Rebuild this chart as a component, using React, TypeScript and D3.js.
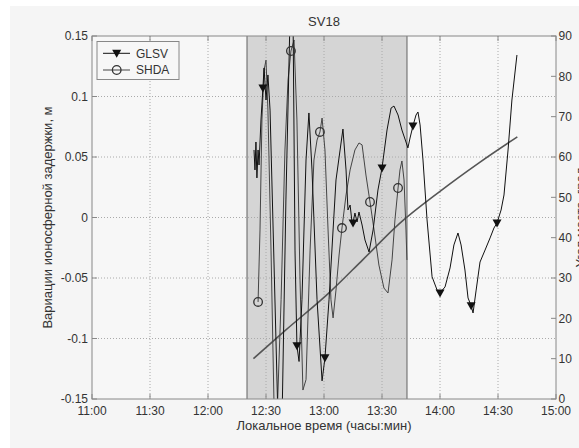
import React from "react";
import * as d3 from "d3";

// time in minutes after 11:00, values in metres
const glsvTime = [83.8, 84.3, 84.8, 85.3, 85.9, 86.4, 87.4, 88.4, 89.0, 90.0, 91.0, 92.1, 94.1, 96.2, 98.3, 100.3, 102.4, 104.0, 105.0, 106.0, 107.1, 108.6, 110.7, 112.2, 113.8, 116.4, 119.0, 120.5, 122.6, 126.2, 129.8, 131.4, 132.4, 133.5, 134.5, 135.0, 136.0, 137.1, 138.1, 139.7, 141.2, 143.3, 145.4, 147.9, 150.0, 152.6, 154.7, 156.2, 158.3, 160.3, 162.4, 163.4, 164.5, 166.0, 167.6, 168.6, 169.7, 171.2, 173.3, 175.9, 178.5, 180.0, 182.6, 185.2, 187.2, 189.3, 190.9, 192.9, 194.5, 196.1, 197.1, 198.7, 200.7, 203.3, 205.9, 207.9, 209.5, 211.6, 213.1, 215.2, 217.2, 219.8];
const glsvValue = [0.0558, 0.0393, 0.0624, 0.0327, 0.0558, 0.0434, 0.0806, 0.107, 0.1236, 0.0971, 0.1178, 0.0888, -0.0351, -0.167, -0.167, 0.0145, 0.163, 0.163, -0.0269, -0.106, -0.119, -0.068, 0.0475, 0.0864, 0.0393, -0.068, -0.135, -0.116, -0.068, 0.031, 0.0731, 0.0393, 0.0062, 0.0103, -0.004, -0.0045, 0.0037, -0.0037, 0.0045, -0.0062, -0.0186, -0.0285, -0.0103, 0.0227, 0.0409, 0.0723, 0.0905, 0.0921, 0.0847, 0.0723, 0.0624, 0.0575, 0.0657, 0.0756, 0.0847, 0.0872, 0.0765, 0.0475, -0.002, -0.049, -0.06, -0.0623, -0.0574, -0.0417, -0.0227, -0.0128, -0.0227, -0.0434, -0.0665, -0.073, -0.0789, -0.06, -0.0368, -0.0269, -0.0169, -0.0087, -0.0045, 0.0062, 0.0186, 0.0558, 0.0971, 0.1343];
const glsvMarkerTime = [88.4, 106.0, 120.5, 135.0, 150.0, 166.0, 180.0, 196.1, 209.5];

const shdaTime = [85.9, 86.9, 87.9, 89.0, 90.0, 91.0, 92.6, 94.1, 95.7, 97.8, 99.8, 101.4, 102.9, 104.5, 106.0, 107.6, 109.1, 110.7, 112.8, 114.8, 116.4, 117.9, 119.0, 120.5, 122.1, 123.6, 124.7, 126.2, 127.8, 129.3, 131.4, 133.5, 136.0, 138.1, 139.7, 141.7, 143.8, 145.9, 148.4, 151.0, 153.1, 155.2, 156.7, 158.3, 159.3, 160.3, 161.4, 162.4, 162.9];
const shdaValue = [-0.0698, -0.0103, 0.0806, 0.1219, 0.13, 0.0888, -0.0269, -0.1508, -0.167, -0.068, 0.0558, 0.1136, 0.1376, 0.1467, 0.0806, -0.0517, -0.1426, -0.134, -0.0269, 0.0475, 0.064, 0.0707, 0.0822, 0.0558, -0.0103, -0.068, -0.083, -0.06, -0.031, -0.0087, 0.0186, 0.0393, 0.0558, 0.0616, 0.06, 0.0351, 0.0128, -0.0103, -0.0393, -0.0583, -0.0624, -0.035, -0.002, 0.0244, 0.0393, 0.0467, 0.031, -0.0103, -0.0351];
const shdaMarkerTime = [85.9, 102.9, 117.9, 129.3, 143.8, 158.3];

const elevTime = [83.5, 100, 123, 140, 159, 180, 200, 220];
const elevValue = [10, 17, 26.5, 34.5, 43.5, 51.5, 58.5, 65];

const shadeStart = 80.2;
const shadeEnd = 162.9;

const xTicks = [0, 30, 60, 90, 120, 150, 180, 210, 240];
const xTickLabels = ["11:00", "11:30", "12:00", "12:30", "13:00", "13:30", "14:00", "14:30", "15:00"];
const yTicks = [-0.15, -0.1, -0.05, 0, 0.05, 0.1, 0.15];
const yTickLabels = ["-0.15", "-0.1", "-0.05", "0", "0.05", "0.1", "0.15"];
const y2Ticks = [0, 10, 20, 30, 40, 50, 60, 70, 80, 90];

const title = "SV18";
const xLabel = "Локальное время (часы:мин)";
const yLabel = "Вариации ионосферной задержки, м";
const y2Label = "Угол места, град";
const seriesNames = ["GLSV", "SHDA"];

const W = 579, H = 448;
const X0 = 92, X1 = 556, Y0 = 36, Y1 = 399;
const FONT = "'Liberation Sans', Arial, sans-serif";
const TXT = "#333";

export default function App() {
  const x = d3.scaleLinear().domain([0, 240]).range([X0, X1]);
  const y = d3.scaleLinear().domain([-0.15, 0.15]).range([Y1, Y0]);
  const y2 = d3.scaleLinear().domain([0, 90]).range([Y1, Y0]);

  const glsv = glsvTime.map((t, i) => [t, glsvValue[i]] as [number, number]);
  const shda = shdaTime.map((t, i) => [t, shdaValue[i]] as [number, number]);
  const elev = elevTime.map((t, i) => [t, elevValue[i]] as [number, number]);

  const line = d3.line<[number, number]>().x(d => x(d[0])).y(d => y(d[1]));
  const line2 = d3.line<[number, number]>().x(d => x(d[0])).y(d => y2(d[1])).curve(d3.curveMonotoneX);

  const glsvMarks = glsvMarkerTime.map(t => glsv.find(d => Math.abs(d[0] - t) < 0.01)!).filter(Boolean);
  const shdaMarks = shdaMarkerTime.map(t => shda.find(d => Math.abs(d[0] - t) < 0.01)!).filter(Boolean);

  const tri = "M-4.5,-3.5L4.5,-3.5L0,4.5Z";

  return (
    <svg width={W} height={H} style={{ position: "absolute", left: 0, top: 0, fontFamily: FONT }}>
      <rect x={0} y={0} width={W} height={H} fill="#fff" />
      <rect x={10} y={6} width={W - 10} height={H - 6} fill="#f5f5f5" />
      <defs>
        <clipPath id="plotclip">
          <rect x={X0} y={Y0} width={X1 - X0} height={Y1 - Y0} />
        </clipPath>
      </defs>
      <rect x={X0} y={Y0} width={X1 - X0} height={Y1 - Y0} fill="#f7f7f7" />
      {/* shaded interval */}
      <rect x={x(shadeStart)} y={Y0} width={x(shadeEnd) - x(shadeStart)} height={Y1 - Y0} fill="#d5d5d5" />
      <line x1={x(shadeStart)} x2={x(shadeStart)} y1={Y0} y2={Y1} stroke="#8c8c8c" strokeWidth={1.5} />
      <line x1={x(shadeEnd)} x2={x(shadeEnd)} y1={Y0} y2={Y1} stroke="#8c8c8c" strokeWidth={1.5} />
      {/* grid */}
      {xTicks.slice(1, -1).map(t => (
        <line key={"gx" + t} x1={x(t)} x2={x(t)} y1={Y0} y2={Y1} stroke="#aaa" strokeWidth={1} strokeDasharray="1,2" />
      ))}
      {yTicks.slice(1, -1).map(t => (
        <line key={"gy" + t} x1={X0} x2={X1} y1={y(t)} y2={y(t)} stroke="#aaa" strokeWidth={1} strokeDasharray="1,2" />
      ))}
      <g clipPath="url(#plotclip)">
        <path d={line2(elev)!} fill="none" stroke="#555" strokeWidth={1.6} />
        <path d={line(shda)!} fill="none" stroke="#444" strokeWidth={1} />
        <path d={line(glsv)!} fill="none" stroke="#111" strokeWidth={1} />
        {shdaMarks.map((d, i) => (
          <circle key={"c" + i} cx={x(d[0])} cy={y(d[1])} r={4.3} fill="none" stroke="#333" strokeWidth={1.3} />
        ))}
        {glsvMarks.map((d, i) => (
          <path key={"t" + i} d={tri} transform={`translate(${x(d[0])},${y(d[1])})`} fill="#111" />
        ))}
      </g>
      {/* axes box */}
      <rect x={X0} y={Y0} width={X1 - X0} height={Y1 - Y0} fill="none" stroke="#888" strokeWidth={1} />
      {/* ticks */}
      {xTicks.map(t => (
        <g key={"xt" + t}>
          <line x1={x(t)} x2={x(t)} y1={Y1} y2={Y1 - 5} stroke="#888" />
          <line x1={x(t)} x2={x(t)} y1={Y0} y2={Y0 + 5} stroke="#888" />
        </g>
      ))}
      {yTicks.map(t => (
        <line key={"yt" + t} x1={X0} x2={X0 + 5} y1={y(t)} y2={y(t)} stroke="#888" />
      ))}
      {y2Ticks.map(t => (
        <line key={"y2t" + t} x1={X1} x2={X1 - 5} y1={y2(t)} y2={y2(t)} stroke="#888" />
      ))}
      {/* tick labels */}
      {xTicks.map((t, i) => (
        <text key={"xl" + t} x={x(t)} y={Y1 + 16} textAnchor="middle" fontSize={12} fill={TXT}>{xTickLabels[i]}</text>
      ))}
      {yTicks.map((t, i) => (
        <text key={"yl" + t} x={X0 - 4} y={y(t) + 4.3} textAnchor="end" fontSize={12} fill={TXT}>{yTickLabels[i]}</text>
      ))}
      {y2Ticks.map(t => (
        <text key={"y2l" + t} x={X1 + 2.5} y={y2(t) + 4.3} textAnchor="start" fontSize={12} fill={TXT}>{t}</text>
      ))}
      {/* titles */}
      <text x={(X0 + X1) / 2} y={26} textAnchor="middle" fontSize={13} fill={TXT}>{title}</text>
      <text x={(X0 + X1) / 2} y={430} textAnchor="middle" fontSize={13} fill={TXT}>{xLabel}</text>
      <text transform={`translate(51.5,${(Y0 + Y1) / 2}) rotate(-90)`} textAnchor="middle" fontSize={13} fill={TXT}>{yLabel}</text>
      <text transform={`translate(585,${(Y0 + Y1) / 2}) rotate(-90)`} textAnchor="middle" fontSize={13} fill={TXT}>{y2Label}</text>
      {/* legend */}
      <rect x={97} y={41.5} width={82} height={38} fill="#f7f7f7" stroke="#888" strokeWidth={1} />
      <line x1={103} x2={130} y1={53.3} y2={53.3} stroke="#111" />
      <path d={tri} transform="translate(116.7,53.3)" fill="#111" />
      <text x={136} y={57.5} fontSize={12} fill={TXT}>{seriesNames[0]}</text>
      <line x1={103} x2={130} y1={70} y2={70} stroke="#444" />
      <circle cx={116.7} cy={70} r={4.3} fill="none" stroke="#333" strokeWidth={1.3} />
      <text x={136} y={74.2} fontSize={12} fill={TXT}>{seriesNames[1]}</text>
    </svg>
  );
}
